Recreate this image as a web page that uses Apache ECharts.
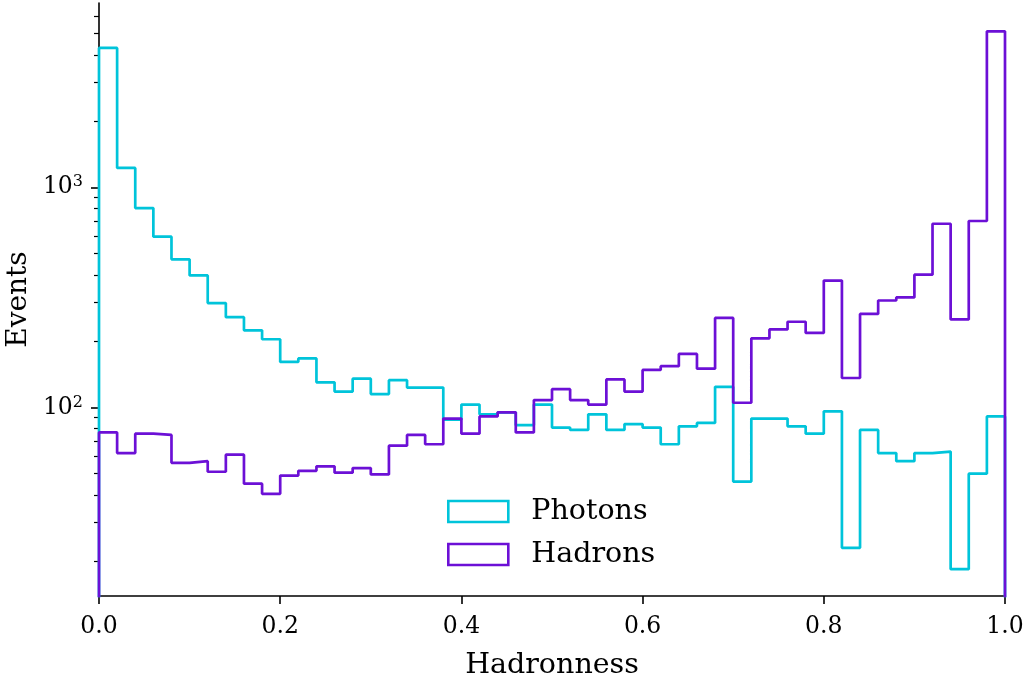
<!DOCTYPE html>
<html>
<head>
<meta charset="utf-8">
<title>Hadronness</title>
<script src="https://cdn.jsdelivr.net/npm/echarts@6/dist/echarts.min.js"></script>
<style>
  html, body { margin: 0; padding: 0; background: #fff; }
  #main { width: 1030px; height: 679px; }
</style>
</head>
<body>
<div id="main"></div>
<script>
// histogram: 50 bins of width 0.02 on [0, 1]
const binWidth = 0.02;
const photons = [4300, 1225, 805, 597, 471, 398, 298, 257, 224, 204,
  161, 167, 130, 118, 135, 115, 133, 123, 123, 88,
  103, 93, 95, 83, 103, 81, 79, 93, 79, 84,
  81, 68, 82, 85, 124, 46, 89, 89, 82, 76,
  96, 23, 79, 62, 57, 62, 63, 18.4, 50, 91];
const hadrons = [77, 62, 76, 75, 56, 57, 51, 61, 45, 40.5,
  49, 51.5, 54, 50.5, 53, 49.6, 67, 75, 68, 89,
  76, 91, 95, 77, 108, 121, 108, 103, 134, 118,
  148, 154, 175, 150, 255, 105, 206, 226, 245, 218,
  377, 136, 266, 306, 316, 401, 683, 251, 703, 5117];
const seriesNames = ['Photons', 'Hadrons'];
const xTicks = [0, 0.2, 0.4, 0.6, 0.8, 1.0];
const yMajor = [100, 1000];
const yMinor = [20, 30, 40, 50, 60, 70, 80, 90, 200, 300, 400, 500, 600, 700, 800, 900, 2000, 3000, 4000, 5000, 6000];

const cyan = '#00c4da';
const purple = '#6c10d6';
const yMin = 13.9;
const yMax = 6880;
const font = 'DejaVu Serif';

// step outline like matplotlib histtype='step'
function stepData(counts) {
  let pts = [[0, 1]];
  for (let i = 0; i < counts.length; i++) {
    pts.push([+(i * binWidth).toFixed(2), counts[i]]);
  }
  pts.push([1, counts[counts.length - 1]]);
  pts.push([1, 1]);
  return pts;
}

const chart = echarts.init(document.getElementById('main'));

const option = {
  animation: false,
  backgroundColor: '#fff',
  grid: { left: 99, right: 25, top: 3, bottom: 83, containLabel: false, outerBoundsMode: 'none' },
  legend: {
    left: 447,
    top: 497,
    padding: 0,
    orient: 'vertical',
    itemWidth: 60,
    itemHeight: 21,
    itemGap: 14,
    textStyle: { fontFamily: font, fontSize: 28.5, color: '#000', padding: [0, 0, 0, 18] },
    data: [
      { name: seriesNames[0], icon: 'rect', itemStyle: { color: '#fff', borderColor: cyan, borderWidth: 2.6 }, lineStyle: { opacity: 0 } },
      { name: seriesNames[1], icon: 'rect', itemStyle: { color: '#fff', borderColor: purple, borderWidth: 2.6 }, lineStyle: { opacity: 0 } }
    ]
  },
  xAxis: {
    type: 'value',
    min: 0,
    max: 1,
    interval: 0.2,
    name: 'Hadronness',
    nameLocation: 'middle',
    nameGap: 55,
    nameTextStyle: { fontFamily: font, fontSize: 28.5, color: '#000' },
    splitLine: { show: false },
    axisLine: { lineStyle: { color: '#000', width: 1.6 } },
    axisTick: { length: 8, lineStyle: { color: '#000', width: 1.6 } },
    axisLabel: {
      margin: 19,
      fontFamily: font, fontSize: 23.5, color: '#000',
      formatter: v => v.toFixed(1)
    }
  },
  yAxis: [{
    type: 'log',
    logBase: 10,
    min: yMin,
    max: yMax,
    position: 'left',
    name: 'Events',
    nameLocation: 'middle',
    nameGap: 66,
    nameMoveOverlap: false,
    nameTextStyle: { fontFamily: font, fontSize: 28, color: '#000' },
    splitLine: { show: false },
    axisLine: { show: true, lineStyle: { color: '#000', width: 1.6 } },
    axisTick: { show: true, length: 8, customValues: yMajor, lineStyle: { color: '#000', width: 1.6 } },
    axisLabel: {
      margin: 16,
      customValues: yMajor,
      color: '#000',
      formatter: v => '{b|10}{s|' + Math.round(Math.log10(v)) + '}',
      rich: {
        b: { fontFamily: font, fontSize: 23.5, color: '#000', lineHeight: 26 },
        s: { fontFamily: font, fontSize: 16, color: '#000', lineHeight: 16, verticalAlign: 'top' }
      }
    }
  }, {
    type: 'log',
    logBase: 10,
    min: yMin,
    max: yMax,
    position: 'left',
    splitLine: { show: false },
    axisLine: { show: false },
    axisTick: { show: true, length: 5, customValues: yMinor, lineStyle: { color: '#000', width: 1.2 } },
    axisLabel: { show: false }
  }],
  series: [
    {
      name: seriesNames[0],
      type: 'line',
      step: 'end',
      symbol: 'none',
      color: cyan,
      lineStyle: { color: cyan, width: 2.7 },
      data: stepData(photons)
    },
    {
      name: seriesNames[1],
      type: 'line',
      step: 'end',
      symbol: 'none',
      color: purple,
      lineStyle: { color: purple, width: 2.7 },
      data: stepData(hadrons)
    }
  ]
};

chart.setOption(option);
</script>
</body>
</html>
